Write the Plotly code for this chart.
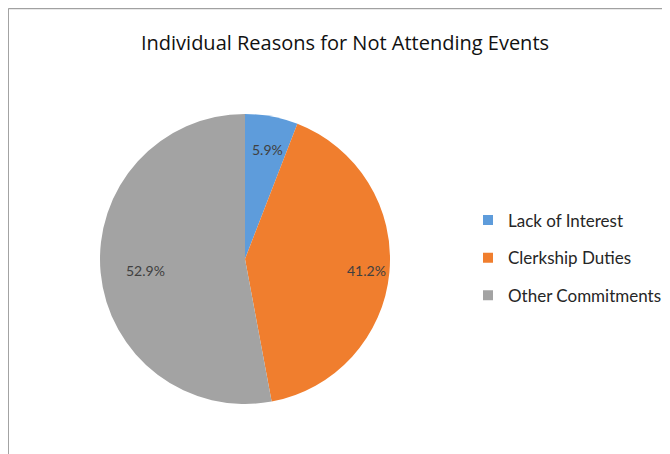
import math
import plotly.graph_objects as go

categories = ["Lack of Interest", "Clerkship Duties", "Other Commitments"]
counts = [1, 7, 9]
colors = ["#5E9CDB", "#F07E2E", "#A3A3A3"]
title_text = "Individual Reasons for Not Attending Events"

W, H = 670, 454
OFF = 8  # page body margin
cx, cy, r = 245 - OFF, 259 - OFF, 145

fig = go.Figure()
fig.add_trace(go.Pie(
    labels=categories, values=counts, sort=False, direction="clockwise", rotation=0,
    marker=dict(colors=colors, line=dict(width=0)),
    textinfo="none",
    domain=dict(x=[(cx - r) / W, (cx + r) / W], y=[1 - (cy + r) / H, 1 - (cy - r) / H]),
    showlegend=False, hoverinfo="label+percent",
))

# data labels placed along each slice's mid-angle (Excel "best fit" style)
total = sum(counts)
cum = 0
for v in counts:
    mid = (cum + v / 2) / total * 2 * math.pi
    cum += v
    rr = 0.84 * r
    px = cx + rr * math.sin(mid)
    py = cy - rr * math.cos(mid)
    fig.add_annotation(x=px / W, y=1 - py / H, xref="paper", yref="paper",
                       text=f"{v / total * 100:.1f}%", showarrow=False,
                       font=dict(family="Lato", size=14, color="#404040"))

for i, (cat, col) in enumerate(zip(categories, colors)):
    fig.add_trace(go.Scatter(
        x=[None], y=[None], mode="markers", name=cat, legendgroup=f"g{i}",
        marker=dict(symbol="square", size=10, color=col),
    ))

fig.add_shape(type="rect", xref="paper", yref="paper",
              x0=0.3 / W, x1=1.02, y0=-0.02, y1=1 - 0.7 / H,
              line=dict(color="#8C8C8C", width=1), fillcolor="rgba(0,0,0,0)")

fig.update_layout(
    width=W, height=H, margin=dict(l=0, r=0, t=0, b=0),
    paper_bgcolor="white", plot_bgcolor="white",
    title=dict(text=title_text, x=(345 - OFF) / W, xanchor="center", y=1 - (43 - OFF) / H,
               yanchor="middle", font=dict(family="Open Sans", size=20, color="#111111")),
    xaxis=dict(visible=False), yaxis=dict(visible=False),
    legend=dict(x=460 / W, xanchor="left", y=1 - (258 - OFF) / H, yanchor="middle",
                font=dict(family="Lato", size=17, color="#262626"),
                tracegroupgap=12.5, itemwidth=30, bgcolor="rgba(0,0,0,0)"),
)

fig.write_html("out.html")
